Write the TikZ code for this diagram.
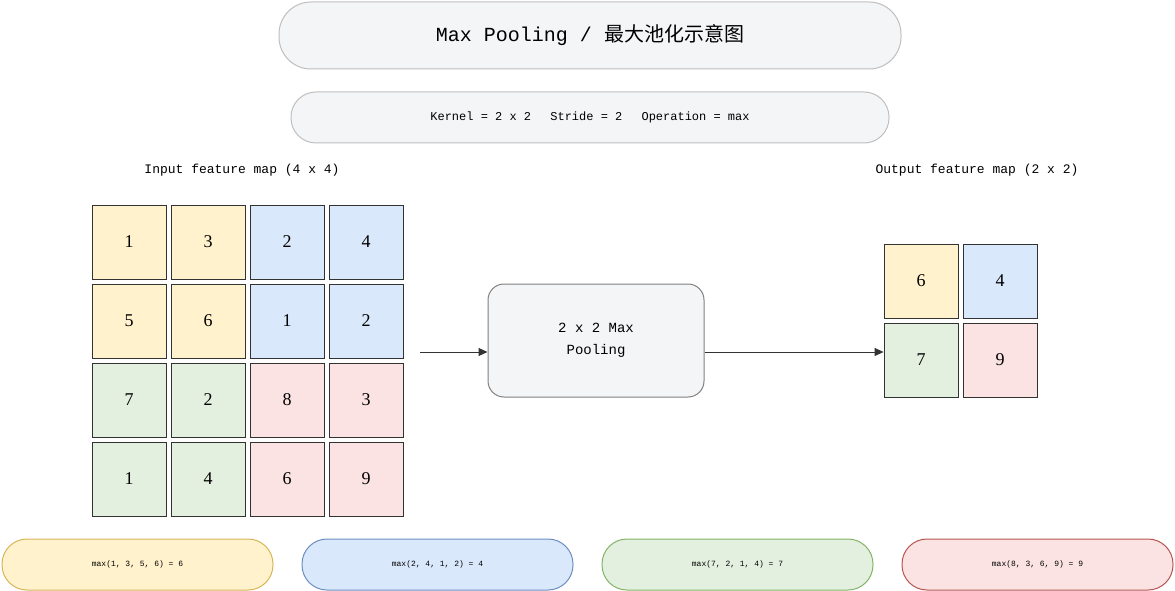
\documentclass[tikz,border=0pt]{standalone}
\usepackage{fontspec}
\setmainfont{Liberation Mono}
\newfontfamily\cjk{Noto Sans CJK SC}
\newfontfamily\numf{Liberation Serif}
\usetikzlibrary{arrows.meta}
\definecolor{yf}{HTML}{FFF2CC}\definecolor{ys}{HTML}{D6B656}
\definecolor{bf}{HTML}{DAE8FC}\definecolor{bs}{HTML}{6C8EBF}
\definecolor{gf}{HTML}{E3F0E0}\definecolor{gs}{HTML}{82B366}
\definecolor{rf}{HTML}{FAE3E2}\definecolor{rs}{HTML}{B85450}
\definecolor{pane}{HTML}{F4F5F7}
\begin{document}
\begin{tikzpicture}[x=1pt,y=-1pt,
 cell/.style={draw=black!80,line width=0.8pt,minimum size=74pt,inner sep=0pt,font=\numf\fontsize{18}{20}\selectfont},
 pill/.style={rounded corners=25pt,line width=1pt,minimum width=271pt,minimum height=51pt,font=\fontsize{8}{10}\selectfont},
 arr/.style={-{Triangle[length=9pt,width=8pt]},line width=1pt,draw=black!80}]
\useasboundingbox (0,0) rectangle (1175,591);
\node[draw=black!25,fill=pane,rounded corners=32pt,line width=1pt,minimum width=622pt,minimum height=67pt,font=\fontsize{20}{24}\selectfont] (title) at (590,35.5) {Max Pooling / {\cjk 最大池化示意图}};
\node[draw=black!25,fill=pane,rounded corners=25pt,line width=1pt,minimum width=598pt,minimum height=51pt,font=\fontsize{12}{14}\selectfont] (par) at (590,117.5) {Kernel = 2 x 2\quad\ Stride = 2\quad\ Operation = max};
\node[font=\fontsize{13}{15}\selectfont] (inl) at (242,170) {Input feature map (4 x 4)};
\node[font=\fontsize{13}{15}\selectfont] (outl) at (977,170) {Output feature map (2 x 2)};
\foreach \v/\c/\r/\f in {1/0/0/yf,3/1/0/yf,2/2/0/bf,4/3/0/bf,
 5/0/1/yf,6/1/1/yf,1/2/1/bf,2/3/1/bf,
 7/0/2/gf,2/1/2/gf,8/2/2/rf,3/3/2/rf,
 1/0/3/gf,4/1/3/gf,6/2/3/rf,9/3/3/rf}
 \node[cell,fill=\f] (i\c\r) at (129+79*\c,242+79*\r) {\v};
\node[cell,fill=yf] (o00) at (921,281) {6};
\node[cell,fill=bf] (o10) at (1000,281) {4};
\node[cell,fill=gf] (o01) at (921,360) {7};
\node[cell,fill=rf] (o11) at (1000,360) {9};
\node[draw=black!50,fill=pane,rounded corners=16pt,line width=1pt,minimum width=216pt,minimum height=113pt,align=center,font=\fontsize{14}{22}\selectfont] (pool) at (596,340.5) {2 x 2 Max\\Pooling};
\coordinate (s) at (420,352);
\draw[arr] (s) -- (pool.west|-s);
\draw[arr] (pool.east|-s) -- (o01.west|-s);
\node[pill,draw=ys,fill=yf] (p1) at (137.5,564.5) {max(1, 3, 5, 6) = 6};
\node[pill,draw=bs,fill=bf] (p2) at (437.5,564.5) {max(2, 4, 1, 2) = 4};
\node[pill,draw=gs,fill=gf] (p3) at (737.5,564.5) {max(7, 2, 1, 4) = 7};
\node[pill,draw=rs,fill=rf] (p4) at (1037.5,564.5) {max(8, 3, 6, 9) = 9};
\end{tikzpicture}
\end{document}
